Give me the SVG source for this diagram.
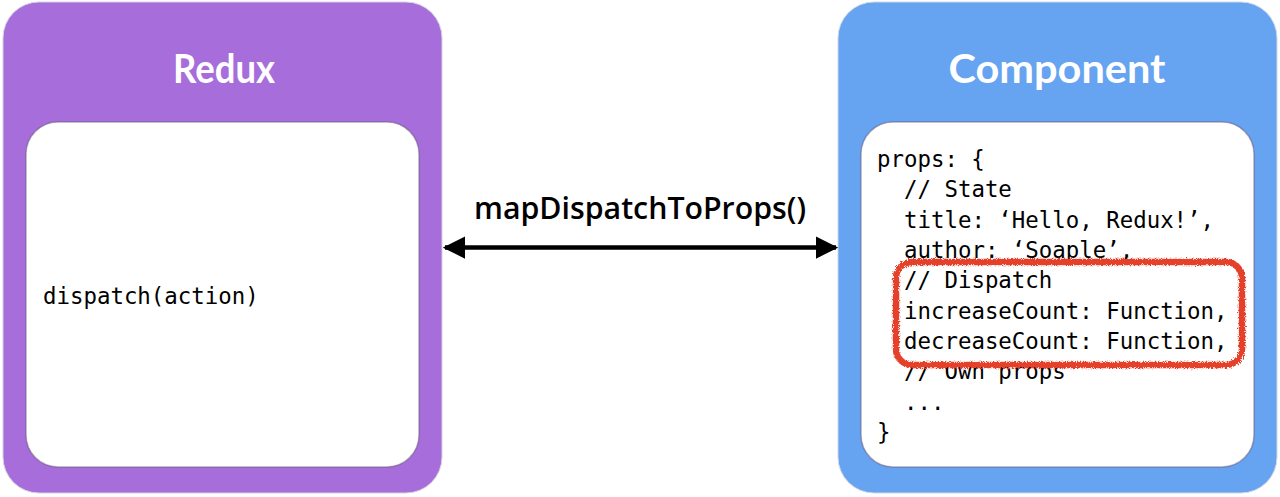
<svg xmlns="http://www.w3.org/2000/svg" width="1280" height="497" viewBox="0 0 1280 497">
<style>
.title{font-family:Lato,"Open Sans",sans-serif;font-weight:bold;font-size:41px;fill:#fff;text-anchor:middle}
.code{font-family:"DejaVu Sans Mono","Liberation Mono",monospace;font-size:22.4px;fill:#000}
.lbl{font-family:"Open Sans",Lato,sans-serif;font-weight:600;font-size:30px;fill:#000;text-anchor:middle}
.inner{fill:#fff;stroke:#6a5a78;stroke-opacity:0.5;stroke-width:1.5}
</style>
<defs>
<marker id="ah" viewBox="0 0 10 10" refX="9" refY="5" markerWidth="5" markerHeight="5" orient="auto-start-reverse" markerUnits="strokeWidth">
<path d="M0,0 L10,5 L0,10 z" fill="#000"/>
</marker>
<filter id="rough" x="-5%" y="-10%" width="110%" height="120%">
<feTurbulence type="fractalNoise" baseFrequency="1.2" numOctaves="2" seed="3" result="n"/>
<feDisplacementMap in="SourceGraphic" in2="n" scale="5"/>
</filter>
</defs>
<rect width="1280" height="497" fill="#fff"/>
<g id="redux">
<rect x="3" y="2" width="439" height="491" rx="36" fill="#a66ddb" stroke="#d8d0e0" stroke-width="1"/>
<text class="title" x="224" y="83" textLength="102" lengthAdjust="spacingAndGlyphs">Redux</text>
<rect class="inner" x="26" y="122" width="393" height="345" rx="32"/>
<text class="code" x="43" y="304">dispatch(action)</text>
</g>
<g id="component">
<rect x="838" y="2" width="439" height="491" rx="36" fill="#66a3f0" stroke="#d0d8e4" stroke-width="1"/>
<text class="title" x="1057" y="83" textLength="217" lengthAdjust="spacingAndGlyphs">Component</text>
<rect class="inner" x="861" y="122" width="393" height="345" rx="32" stroke="#4a6a90"/>
<text class="code" x="877" y="167">props: {</text>
<text class="code" x="904" y="197.3">// State</text>
<text class="code" x="904" y="227.6">title: ‘Hello, Redux!’,</text>
<text class="code" x="904" y="258">author: ‘Soaple’,</text>
<text class="code" x="904" y="379">// Own props</text>
<text class="code" x="904" y="409.5">...</text>
<text class="code" x="877" y="440">}</text>
<rect x="896" y="262" width="346" height="103" rx="16" fill="#fff" stroke="#e5402a" stroke-width="6.5" filter="url(#rough)"/>
<text class="code" x="904" y="288">// Dispatch</text>
<text class="code" x="904" y="318.5">increaseCount: Function,</text>
<text class="code" x="904" y="349">decreaseCount: Function,</text>
</g>
<g id="connectors">
<line x1="445" y1="247.5" x2="836" y2="247.5" stroke="#000" stroke-width="4.5" marker-start="url(#ah)" marker-end="url(#ah)"/>
<text class="lbl" x="640" y="219" textLength="332" lengthAdjust="spacingAndGlyphs">mapDispatchToProps()</text>
</g>
</svg>
